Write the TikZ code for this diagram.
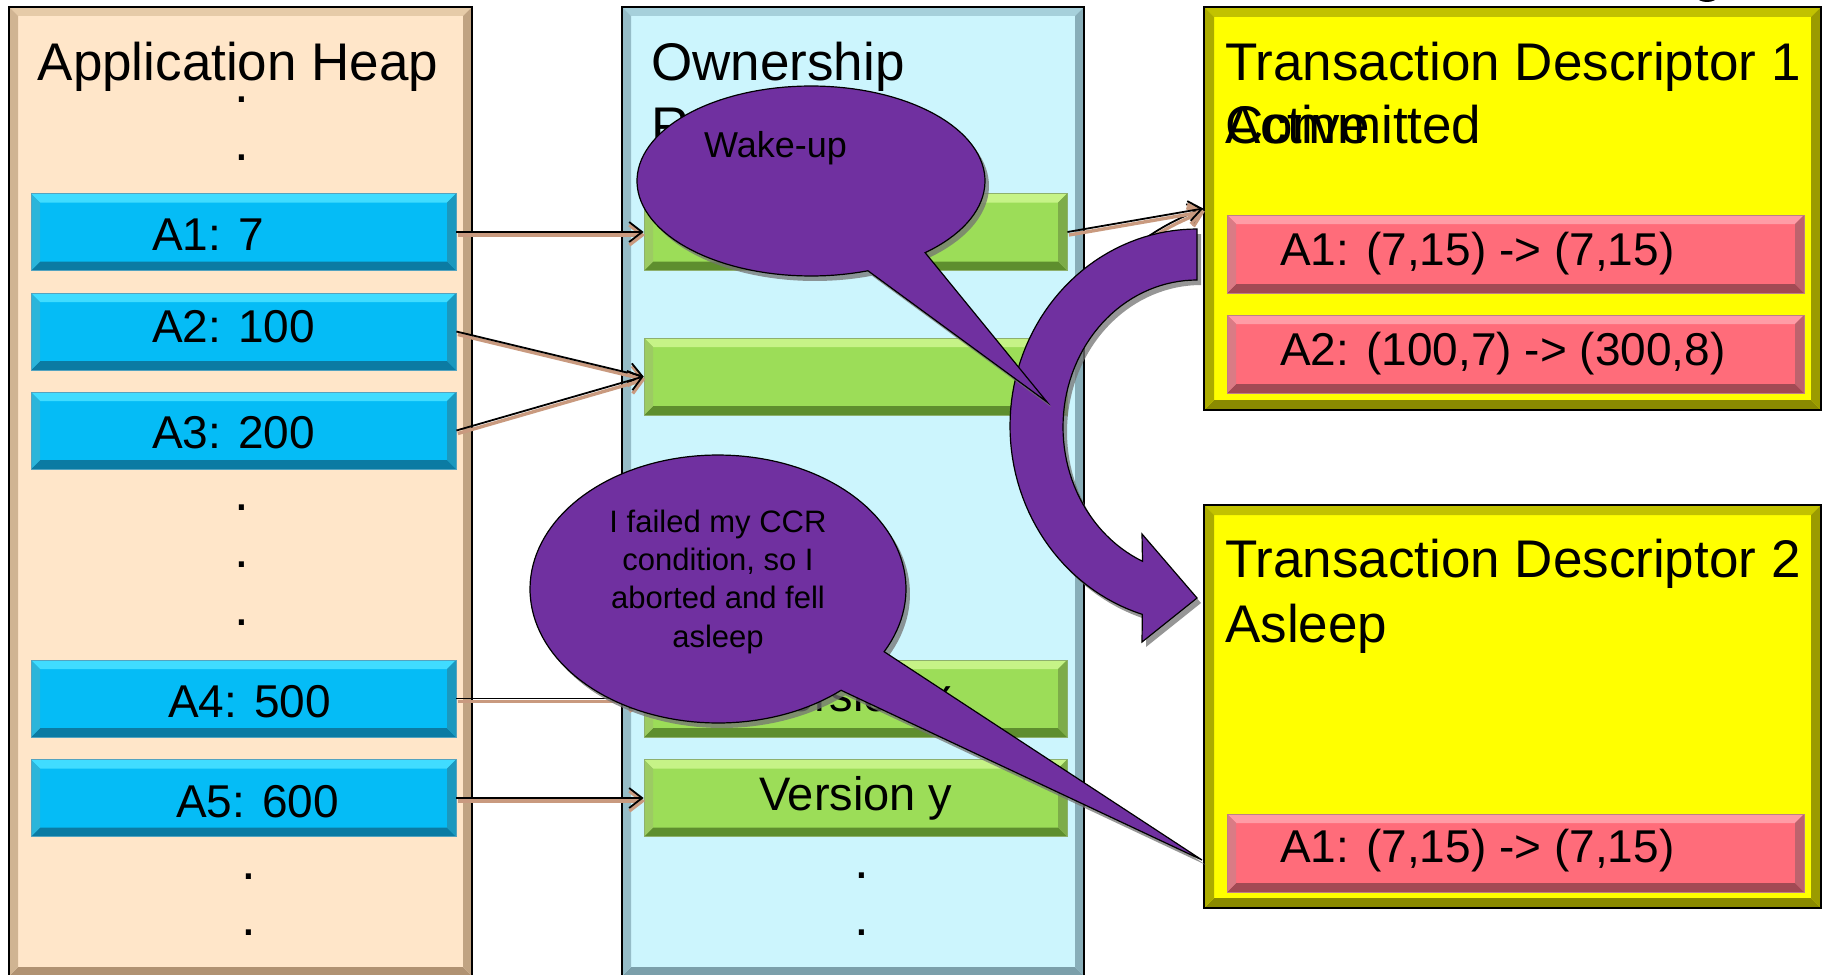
\documentclass[tikz,border=0pt]{standalone}
\usepackage{fontspec}
\setmainfont{Liberation Sans}
\usetikzlibrary{arrows.meta,shadows}

\definecolor{heapfill}{HTML}{FFE6C9}
\definecolor{heaplt}{HTML}{E6CBA8}
\definecolor{heapdk}{HTML}{B09272}
\definecolor{ownfill}{HTML}{CCF5FD}
\definecolor{ownlt}{HTML}{A6D0DB}
\definecolor{owndk}{HTML}{7B9FAA}
\definecolor{cellblue}{HTML}{05BCF6}
\definecolor{bluelt}{HTML}{40DCFF}
\definecolor{bluedk}{HTML}{0B7BA3}
\definecolor{cellgreen}{HTML}{9CDD58}
\definecolor{greenlt}{HTML}{C6F387}
\definecolor{greendk}{HTML}{5E8E2E}
\definecolor{descyellow}{HTML}{FFFF00}
\definecolor{yellt}{HTML}{C2C200}
\definecolor{yeldk}{HTML}{8A8A00}
\definecolor{cellred}{HTML}{FF6C7A}
\definecolor{redlt}{HTML}{FF9CA6}
\definecolor{reddk}{HTML}{A24A54}
\definecolor{bubble}{HTML}{7030A0}
\definecolor{linkshade}{HTML}{C99A7F}

\newcommand\TitleSize{\fontsize{53}{63}\selectfont}
\newcommand\CellSize{\fontsize{46}{55}\selectfont}
\newcommand\WakeSize{\fontsize{36}{43}\selectfont}
\newcommand\NoteSize{\fontsize{31}{38}\selectfont}

\tikzset{
  % filled rectangle with a four-sided bevel: fill, light edge, dark edge, bevel size
  bevelfill/.style n args={4}{
    fill=#1,
    path picture={
      \fill[#2] (path picture bounding box.north west) -- (path picture bounding box.north east)
        -- ([xshift=-#4,yshift=-#4]path picture bounding box.north east)
        -- ([xshift=#4,yshift=-#4]path picture bounding box.north west) -- cycle;
      \fill[#3] (path picture bounding box.south west) -- (path picture bounding box.south east)
        -- ([xshift=-#4,yshift=#4]path picture bounding box.south east)
        -- ([xshift=#4,yshift=#4]path picture bounding box.south west) -- cycle;
      \fill[#2!60!#3] (path picture bounding box.north west)
        -- ([xshift=#4,yshift=-#4]path picture bounding box.north west)
        -- ([xshift=#4,yshift=#4]path picture bounding box.south west)
        -- (path picture bounding box.south west) -- cycle;
      \fill[#2!30!#3] (path picture bounding box.north east)
        -- ([xshift=-#4,yshift=-#4]path picture bounding box.north east)
        -- ([xshift=-#4,yshift=#4]path picture bounding box.south east)
        -- (path picture bounding box.south east) -- cycle;
    }},
  panel/.style={rectangle, inner sep=0pt, draw=black, line width=1.6pt},
  heappanel/.style={panel, bevelfill={heapfill}{heaplt}{heapdk}{9pt},
    minimum width=463pt, minimum height=969pt},
  ownpanel/.style={panel, bevelfill={ownfill}{ownlt}{owndk}{9pt},
    minimum width=462pt, minimum height=969pt},
  descpanel/.style={panel, bevelfill={descyellow}{yellt}{yeldk}{10pt},
    minimum width=617pt, minimum height=403pt},
  cell/.style={rectangle, inner sep=0pt, minimum height=77pt, line width=0.8pt},
  heapcell/.style={cell, draw=bluedk!70, bevelfill={cellblue}{bluelt}{bluedk}{9pt}, minimum width=425pt},
  ownercell/.style={cell, draw=greendk!70, bevelfill={cellgreen}{greenlt}{greendk}{9pt}, minimum width=423pt},
  logcell/.style={cell, draw=reddk!70, bevelfill={cellred}{redlt}{reddk}{9pt}, minimum width=577pt, minimum height=78pt},
  ttl/.style={font=\TitleSize, anchor=base west, inner sep=0pt},
  celltext/.style={font=\CellSize, anchor=base west, inner sep=0pt},
  ellipsis/.style={font=\TitleSize, inner sep=0pt},
  link/.style={draw=black, line width=1.8pt, -{Straight Barb[length=13pt,width=20pt]},
    preaction={draw=linkshade, line width=3.4pt, -{Straight Barb[length=13pt,width=20pt]},
      transform canvas={xshift=1.5pt,yshift=-3pt}}},
  bubbleshape/.style={fill=bubble, draw=black, line width=1.2pt,
    drop shadow={shadow xshift=4pt, shadow yshift=-5pt, fill=black!55, opacity=.75}},
}

\begin{document}
\begin{tikzpicture}[x=1pt,y=-1pt]
\useasboundingbox (0,0) rectangle (1822,974);
\fill[white] (0,0) rectangle (1822,974);

% ---- application heap ----
\node[heappanel] (heap) at (240.5,491.5) {};
\node[ttl] (heaptitle) at (37.5,81) {Application Heap};
\node[ellipsis] (hd1) at (242,100) {.};
\node[ellipsis] (hd2) at (242,158) {.};
\node[heapcell] (A1) at (243.5,232) {};
\node[heapcell] (A2) at (243.5,331.5) {};
\node[heapcell] (A3) at (243.5,430.5) {};
\node[ellipsis] (hd3) at (242,508) {.};
\node[ellipsis] (hd4) at (242,565) {.};
\node[ellipsis] (hd5) at (242,623) {.};
\node[heapcell] (A4) at (243.5,698.5) {};
\node[heapcell] (A5) at (243.5,798) {};
\node[ellipsis] (hd6) at (249,877) {.};
\node[ellipsis] (hd7) at (249,933) {.};
\node[celltext] (tA1) at (152,250) {A1: 7};
\node[celltext] (tA2) at (152,342) {A2: 100};
\node[celltext] (tA3) at (152,448) {A3: 200};
\node[celltext] (tA4) at (168,717) {A4: 500};
\node[celltext] (tA5) at (176,817) {A5: 600};

% ---- ownership records ----
\node[ownpanel] (own) at (853,491.5) {};
\node[ttl] (owntitle1) at (651,81) {Ownership};
\node[ttl] (owntitle2) at (651,144) {Records};
\node[ownercell] (G1) at (855.5,232) {};
\node[ownercell] (G2) at (855.5,376.5) {};
\node[ownercell] (G3) at (855.5,698.5) {};
\node[ownercell] (G4) at (855.5,798) {};
\node[celltext, font=\fontsize{47}{56}\selectfont] (tG3) at (759,711) {Version x};
\node[celltext, font=\fontsize{47}{56}\selectfont] (tG4) at (759,810) {Version y};
\node[ellipsis] (od1) at (862,876) {.};
\node[ellipsis] (od2) at (862,933) {.};

% ---- transaction descriptors ----
\node[descpanel] (TD1) at (1512.5,208.5) {};
\node[ttl] (td1title) at (1225,80) {Transaction Descriptor 1};
\node[ttl] (td1state1) at (1225,143) {Committed};
\node[ttl] (td1state2) at (1225,143) {Active};
\node[logcell] (R1) at (1515.5,254) {};
\node[logcell] (R2) at (1515.5,354) {};
\node[celltext] (tR1) at (1280,265) {A1: (7,15) -> (7,15)};
\node[celltext] (tR2) at (1280,365) {A2: (100,7) -> (300,8)};

\node[descpanel] (TD2) at (1512.5,706.5) {};
\node[ttl] (td2title) at (1225,577) {Transaction Descriptor 2};
\node[ttl] (td2state) at (1225,642) {Asleep};
\node[logcell] (R3) at (1515.5,853) {};
\node[celltext] (tR3) at (1280,862) {A1: (7,15) -> (7,15)};

% descender of a glyph cut by the top edge
\fill[black] (1707,-3) ellipse [x radius=10pt, y radius=5pt];

% ---- ownership links ----
\draw[link] (A1.east) -- (G1.west);
\draw[link] (A2.east) -- (G2.west);
\draw[link] (A3.east) -- (G2.west);
\draw[link] (A4.east) -- (G3.west);
\draw[link] (A5.east) -- (G4.west);
\draw[link] (G2.east) .. controls (1072,300) and (1120,240) .. (TD1.west);
\draw[link] (G1.east) -- (TD1.west);

% ---- curved wake-up arrow from descriptor 1 to descriptor 2 ----
\path[bubbleshape] (1197,229)
  -- plot[domain=270:107, samples=70] ({1197+187*cos(\x)},{426+197*sin(\x)})
  -- (1142,642) -- (1197,598) -- (1142,534)
  -- plot[domain=114:270, samples=60] ({1197+134*cos(\x)},{427+147*sin(\x)})
  -- cycle;

% ---- speech bubbles ----
\path[bubbleshape] plot[domain=49:-289.1, samples=120] ({811+174*cos(\x)},{181+95*sin(\x)})
  -- (1047,402) -- cycle;
\node[font=\WakeSize, anchor=base west, inner sep=0pt] (wake) at (704,157) {Wake-up};

\path[bubbleshape] plot[domain=27.9:-310.9, samples=140] ({718+188*cos(\x)},{589+134*sin(\x)})
  -- (1202,860) -- cycle;
\node[font=\NoteSize, anchor=base, inner sep=0pt] (note1) at (718,532) {I failed my CCR};
\node[font=\NoteSize, anchor=base, inner sep=0pt] (note2) at (718,570) {condition, so I};
\node[font=\NoteSize, anchor=base, inner sep=0pt] (note3) at (718,608) {aborted and fell};
\node[font=\NoteSize, anchor=base, inner sep=0pt] (note4) at (718,647) {asleep};
\end{tikzpicture}
\end{document}
